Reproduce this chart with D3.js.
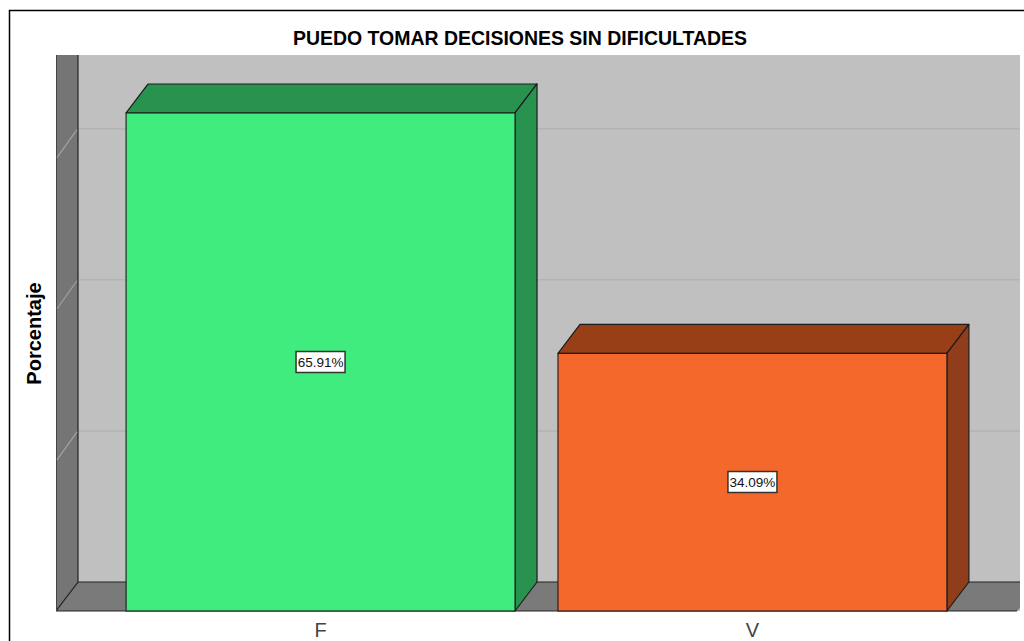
<!DOCTYPE html>
<html>
<head>
<meta charset="utf-8">
<script src="https://cdn.jsdelivr.net/npm/d3@7"></script>
<style>
  html, body { margin: 0; padding: 0; background: #fff; overflow: hidden; }
  text { font-family: "Liberation Sans", Arial, sans-serif; }
</style>
</head>
<body>
<svg id="canvas" width="1024" height="641"></svg>
<script>
let categories = ['F', 'V']
let percentages = [65.91, 34.09]
let labels = ['65.91%', '34.09%']
let gridTicks = [20, 40, 60]
let frontColors = ['#41ec7f', '#f4682b']
let topColors = ['#27934f', '#983f18']
let sideColors = ['#27934f', '#8f3d1b']

let plot = { left: 56, right: 1020, top: 55, bottom: 611 }
let depth = { x: 22, y: -29 }

let canvas = d3.select('#canvas')

let x = d3.scaleBand()
  .domain(categories)
  .range([104.5, 968.5])
  .paddingInner(0.0995)
  .paddingOuter(0.05)

let y = d3.scaleLinear()
  .domain([0, 70])
  .range([plot.bottom, plot.bottom - 70 * 7.556])

let pts = (arr) => arr.map(p => p.join(',')).join(' ')

// outer frame, only top and left are visible
canvas.append('path')
  .attr('d', 'M9.5,641V10.5H1024')
  .attr('fill', 'none')
  .attr('stroke', '#000')
  .attr('stroke-width', 1.5)

canvas.append('clipPath').attr('id', 'plotClip')
  .append('rect')
  .attr('x', plot.left).attr('y', plot.top)
  .attr('width', plot.right - plot.left)
  .attr('height', plot.bottom - plot.top + 1)

let g = canvas.append('g').attr('clip-path', 'url(#plotClip)')

// back wall
g.append('rect')
  .attr('x', plot.left).attr('y', plot.top)
  .attr('width', plot.right - plot.left)
  .attr('height', plot.bottom - plot.top)
  .attr('fill', '#c0c0c0')

// floor
g.append('polygon')
  .attr('points', pts([
    [plot.left, plot.bottom],
    [plot.left + depth.x, plot.bottom + depth.y],
    [plot.right, plot.bottom + depth.y],
    [plot.right, plot.bottom - 3],
    [plot.right - 3, plot.bottom]
  ]))
  .attr('fill', '#7a7a7a')

g.append('line')
  .attr('x1', plot.left + depth.x).attr('x2', plot.right)
  .attr('y1', plot.bottom + depth.y).attr('y2', plot.bottom + depth.y)
  .attr('stroke', '#222').attr('stroke-width', 1.2)

// left wall
g.append('polygon')
  .attr('points', pts([
    [plot.left, plot.top],
    [plot.left + depth.x, plot.top],
    [plot.left + depth.x, plot.bottom + depth.y],
    [plot.left, plot.bottom]
  ]))
  .attr('fill', '#757575')

g.append('path')
  .attr('d', `M${plot.left + depth.x},${plot.top}V${plot.bottom + depth.y}L${plot.left},${plot.bottom}H${plot.right - 3}`)
  .attr('fill', 'none').attr('stroke', '#222').attr('stroke-width', 1.2)

g.append('line')
  .attr('x1', plot.left + 0.5).attr('x2', plot.left + 0.5)
  .attr('y1', plot.top).attr('y2', plot.bottom)
  .attr('stroke', '#444')

// grid lines on the back wall and left wall
g.selectAll('.grid')
  .data(gridTicks)
  .enter()
  .append('line')
  .attr('class', 'grid')
  .attr('x1', plot.left + depth.x + 1).attr('x2', plot.right)
  .attr('y1', d => y(d) + depth.y).attr('y2', d => y(d) + depth.y)
  .attr('stroke', '#b3b3b3').attr('stroke-width', 1.5)

g.selectAll('.gridSide')
  .data(gridTicks)
  .enter()
  .append('line')
  .attr('class', 'gridSide')
  .attr('x1', plot.left + 1).attr('x2', plot.left + depth.x - 1)
  .attr('y1', d => y(d)).attr('y2', d => y(d) + depth.y + 1)
  .attr('stroke', '#a2a2a2').attr('stroke-width', 1.2)

// bars
let bars = g.selectAll('.bar')
  .data(categories)
  .enter()
  .append('g')
  .attr('class', 'bar')

bars.append('polygon')
  .attr('points', (d, i) => {
    let x0 = x(d), x1 = x(d) + x.bandwidth(), yt = y(percentages[i])
    return pts([[x0, yt], [x0 + depth.x, yt + depth.y], [x1 + depth.x, yt + depth.y], [x1, yt]])
  })
  .attr('fill', (d, i) => topColors[i])
  .attr('stroke', '#1c1c1c').attr('stroke-width', 1.2).attr('stroke-linejoin', 'round')

bars.append('polygon')
  .attr('points', (d, i) => {
    let x1 = x(d) + x.bandwidth(), yt = y(percentages[i])
    return pts([[x1, yt], [x1 + depth.x, yt + depth.y], [x1 + depth.x, y(0) + depth.y], [x1, y(0)]])
  })
  .attr('fill', (d, i) => sideColors[i])
  .attr('stroke', '#1c1c1c').attr('stroke-width', 1.2).attr('stroke-linejoin', 'round')

bars.append('rect')
  .attr('x', d => x(d))
  .attr('y', (d, i) => y(percentages[i]))
  .attr('width', x.bandwidth())
  .attr('height', (d, i) => y(0) - y(percentages[i]))
  .attr('fill', (d, i) => frontColors[i])
  .attr('stroke', '#1c1c1c').attr('stroke-width', 1.1)

// value labels
let tags = canvas.selectAll('.tag')
  .data(categories)
  .enter()
  .append('g')
  .attr('class', 'tag')
  .attr('transform', (d, i) => `translate(${x(d) + x.bandwidth() / 2},${Math.round((y(0) + y(percentages[i])) / 2)})`)

tags.append('rect')
  .attr('x', -24.5).attr('y', -10.5)
  .attr('width', 49).attr('height', 21)
  .attr('fill', '#fff')
  .attr('stroke', '#333').attr('stroke-width', 1.5)

tags.append('text')
  .attr('text-anchor', 'middle')
  .attr('y', 5)
  .attr('font-size', 13.5)
  .attr('fill', '#111')
  .text((d, i) => labels[i])

// category axis
let axis = canvas.append('g')
  .attr('transform', `translate(0,${plot.bottom})`)
  .call(d3.axisBottom(x).tickSize(0).tickPadding(12))

axis.select('.domain').remove()
axis.selectAll('text')
  .attr('font-family', '"Liberation Sans", Arial, sans-serif')
  .attr('font-size', 20)
  .attr('fill', '#444')

// titles
canvas.append('text')
  .attr('x', 520).attr('y', 45)
  .attr('text-anchor', 'middle')
  .attr('font-size', 19.5)
  .attr('font-weight', 'bold')
  .attr('fill', '#000')
  .attr('textLength', 454)
  .attr('lengthAdjust', 'spacingAndGlyphs')
  .text('PUEDO TOMAR DECISIONES SIN DIFICULTADES')

canvas.append('text')
  .attr('transform', 'translate(41,333.5) rotate(-90)')
  .attr('text-anchor', 'middle')
  .attr('font-size', 20)
  .attr('font-weight', 'bold')
  .attr('fill', '#000')
  .text('Porcentaje')
</script>
</body>
</html>
